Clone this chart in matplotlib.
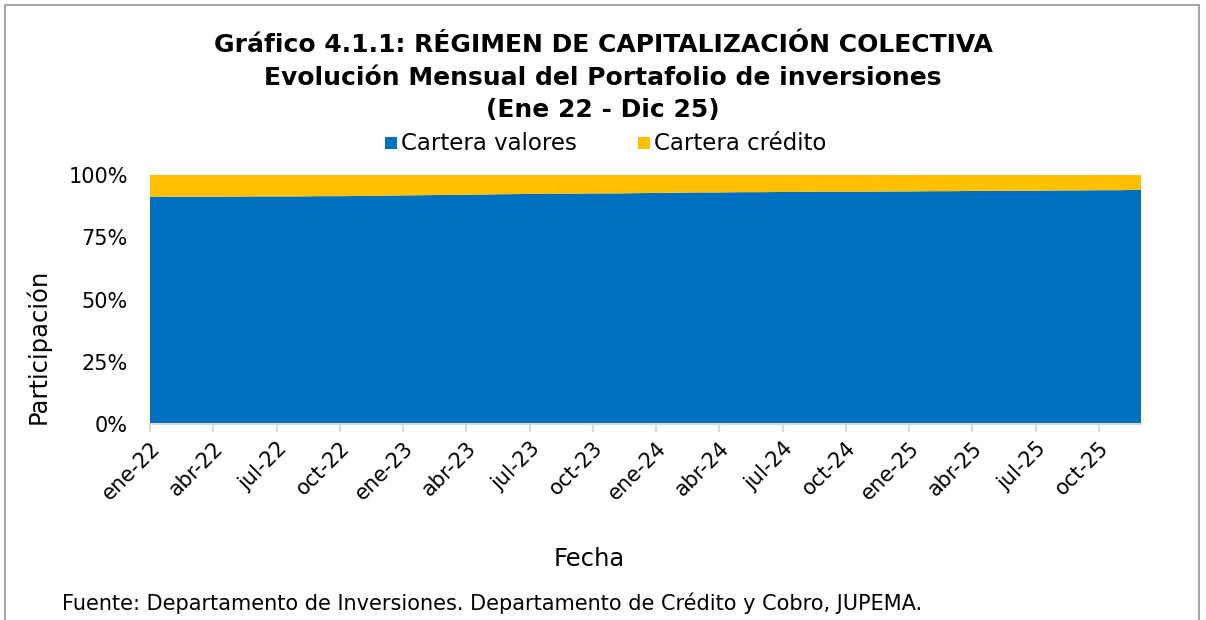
import matplotlib
matplotlib.use("Agg")
import matplotlib.pyplot as plt
from matplotlib.patches import Rectangle
from matplotlib.ticker import FuncFormatter, FixedLocator

months = list(range(48))
tick_labels = ["ene-22", "abr-22", "jul-22", "oct-22", "ene-23", "abr-23", "jul-23", "oct-23",
               "ene-24", "abr-24", "jul-24", "oct-24", "ene-25", "abr-25", "jul-25", "oct-25"]
cartera_valores = [
    91.3, 91.3, 91.3, 91.3, 91.3, 91.4, 91.4, 91.4, 91.5, 91.5, 91.6, 91.7,
    91.8, 91.9, 92.0, 92.1, 92.2, 92.3, 92.4, 92.5, 92.5, 92.6, 92.6, 92.7,
    92.8, 92.9, 93.0, 93.0, 93.1, 93.1, 93.2, 93.2, 93.3, 93.3, 93.3, 93.4,
    93.4, 93.5, 93.5, 93.6, 93.6, 93.7, 93.7, 93.8, 93.8, 93.9, 93.9, 94.1,
]
cartera_credito = [100 - v for v in cartera_valores]
series_names = ["Cartera valores", "Cartera crédito"]
colors = ["#0070C0", "#FFC000"]

W, H = 1206, 620
fig = plt.figure(figsize=(W / 100, H / 100), dpi=100)
plt.rcParams['font.family'] = ['DejaVu Sans']

def fx(px):
    return px / W

def fy(py):
    return 1 - py / H

ax = fig.add_axes([fx(150), fy(424), fx(1141) - fx(150), fy(175) - fy(424)])
ax.stackplot(months, cartera_valores, cartera_credito, colors=colors, linewidth=0)
ax.set_xlim(0, 47)
ax.set_ylim(0, 100)

ax.yaxis.set_major_locator(FixedLocator([0, 25, 50, 75, 100]))
ax.yaxis.set_major_formatter(FuncFormatter(lambda v, p: f"{int(v)}%"))
ax.tick_params(axis='y', length=0, labelsize=15, pad=16)
ax.xaxis.set_major_locator(FixedLocator(list(range(0, 48, 3))))
ax.set_xticklabels(tick_labels, rotation=45, ha='right', rotation_mode='anchor', fontsize=15)
ax.tick_params(axis='x', length=6, width=1.5, color='#d9d9d9', pad=4)
for s in ['top', 'right', 'left']:
    ax.spines[s].set_visible(False)
ax.spines['bottom'].set_color('#d9d9d9')
ax.spines['bottom'].set_linewidth(1.5)

fig.text(fx(603), fy(45), "Gráfico 4.1.1: RÉGIMEN DE CAPITALIZACIÓN COLECTIVA",
         ha='center', va='center', fontsize=18, fontweight='bold')
fig.text(fx(603), fy(78), "Evolución Mensual del Portafolio de inversiones",
         ha='center', va='center', fontsize=18, fontweight='bold')
fig.text(fx(603), fy(110), "(Ene 22 - Dic 25)",
         ha='center', va='center', fontsize=18, fontweight='bold')

# legend
leg_items = [(385, series_names[0], colors[0]), (638, series_names[1], colors[1])]
for x0, name, c in leg_items:
    fig.patches.append(Rectangle((fx(x0), fy(149)), fx(12), fy(137) - fy(149),
                                 transform=fig.transFigure, facecolor=c, edgecolor='none'))
    fig.text(fx(x0 + 16), fy(143), name, ha='left', va='center', fontsize=16.5)

fig.text(fx(38), fy(346), "Participación", rotation=90, ha='center', va='center', fontsize=17.5)
fig.text(fx(589), fy(559), "Fecha", ha='center', va='center', fontsize=17.5)
fig.text(fx(62), fy(603), "Fuente: Departamento de Inversiones. Departamento de Crédito y Cobro, JUPEMA.",
         ha='left', va='center', fontsize=15)

fig.patches.append(Rectangle((fx(5), fy(640)), fx(1199) - fx(5), fy(5) - fy(640),
                             transform=fig.transFigure, facecolor='none',
                             edgecolor='#a6a6a6', linewidth=1.5, clip_on=False))

fig.savefig("out.png", dpi=100)
